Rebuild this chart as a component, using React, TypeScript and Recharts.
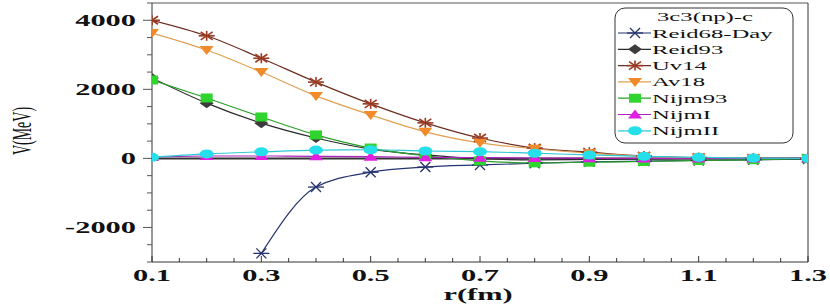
import React from "react";
import {
    LineChart,
    Line,
    XAxis,
    YAxis,
    ReferenceLine,
} from "recharts";

// r (fm)
const rValues = [0.1, 0.2, 0.3, 0.4, 0.5, 0.6, 0.7, 0.8, 0.9, 1.0, 1.1, 1.2, 1.3];

// V (MeV) per potential model
const reid68Day = [null, null, -2750, -830, -400, -250, -190, -140, -100, -80, -60, -40, -20];
const reid93 = [2330, 1600, 1020, 590, 270, 100, -10, -40, -30, -20, -10, -5, 0];
const uv14 = [4000, 3550, 2900, 2210, 1580, 1030, 590, 300, 180, 70, 25, 10, 0];
const av18 = [3630, 3140, 2500, 1810, 1260, 770, 450, 280, 150, 60, 20, 5, 0];
const nijm93 = [2270, 1750, 1200, 680, 300, 80, -70, -130, -110, -90, -60, -40, -10];
const nijmI = [40, 70, 70, 60, 50, 30, 20, 10, 5, 0, 0, 0, 0];
const nijmII = [30, 130, 190, 240, 250, 215, 195, 150, 100, 60, 30, 10, 0];

const xTicks = [0.1, 0.15, 0.2, 0.25, 0.3, 0.35, 0.4, 0.45, 0.5, 0.55, 0.6, 0.65, 0.7, 0.75, 0.8, 0.85, 0.9, 0.95, 1.0, 1.05, 1.1, 1.15, 1.2, 1.25, 1.3];
const xLabels = ["0.1", "0.3", "0.5", "0.7", "0.9", "1.1", "1.3"];
const yTicks = [-3000, -2500, -2000, -1500, -1000, -500, 0, 500, 1000, 1500, 2000, 2500, 3000, 3500, 4000, 4500];
const yLabels = ["-2000", "0", "2000", "4000"];

const legendTitle = "3c3(np)-c";

const series = [
    { key: "reid68Day", name: "Reid68-Day", values: reid68Day, color: "#25336e", line: "#25336e", shape: "star" },
    { key: "reid93", name: "Reid93", values: reid93, color: "#3c3c3c", line: "#2a2a2a", shape: "diamond" },
    { key: "uv14", name: "Uv14", values: uv14, color: "#9a3a22", line: "#6e2e20", shape: "star8" },
    { key: "av18", name: "Av18", values: av18, color: "#f08a2a", line: "#e0a050", shape: "triDown" },
    { key: "nijm93", name: "Nijm93", values: nijm93, color: "#2fd42f", line: "#2aa02a", shape: "square" },
    { key: "nijmI", name: "NijmI", values: nijmI, color: "#e020e0", line: "#b020c0", shape: "triUp" },
    { key: "nijmII", name: "NijmII", values: nijmII, color: "#25e0ea", line: "#30c8d8", shape: "circle" },
];

const data = rValues.map((r, i) => {
    const row: any = { r };
    series.forEach((s) => (row[s.key] = s.values[i]));
    return row;
});

const FONT = "'Liberation Serif', 'Times New Roman', serif";

function Mark({ shape, cx, cy, color }: any) {
    if (cx == null || cy == null) return <g />;
    switch (shape) {
        case "star":
            return (
                <g stroke={color} strokeWidth={1.3}>
                    <line x1={cx - 8} y1={cy} x2={cx + 8} y2={cy} />
                    <line x1={cx - 5} y1={cy - 5} x2={cx + 5} y2={cy + 5} />
                    <line x1={cx - 5} y1={cy + 5} x2={cx + 5} y2={cy - 5} />
                </g>
            );
        case "star8":
            return (
                <g stroke={color} strokeWidth={1.6}>
                    <line x1={cx - 8} y1={cy} x2={cx + 8} y2={cy} />
                    <line x1={cx} y1={cy - 5} x2={cx} y2={cy + 5} />
                    <line x1={cx - 6} y1={cy - 4} x2={cx + 6} y2={cy + 4} />
                    <line x1={cx - 6} y1={cy + 4} x2={cx + 6} y2={cy - 4} />
                </g>
            );
        case "diamond":
            return <path d={`M${cx - 7},${cy} L${cx},${cy - 5} L${cx + 7},${cy} L${cx},${cy + 5} Z`} fill={color} />;
        case "triDown":
            return <path d={`M${cx - 7},${cy - 4} L${cx + 7},${cy - 4} L${cx},${cy + 5} Z`} fill={color} />;
        case "triUp":
            return <path d={`M${cx - 7},${cy + 4} L${cx + 7},${cy + 4} L${cx},${cy - 5} Z`} fill={color} />;
        case "square":
            return <rect x={cx - 6} y={cy - 4.5} width={12} height={9} fill={color} />;
        default:
            return <ellipse cx={cx} cy={cy} rx={7} ry={4.5} fill={color} />;
    }
}

const XTick = (props: any) => {
    const { x, y, payload } = props;
    const label = xLabels.find((l) => Math.abs(parseFloat(l) - payload.value) < 1e-6);
    return (
        <g>
            <line x1={x} y1={y} x2={x} y2={y - (label ? 6 : 4)} stroke="#333" />
            {label && (
                <text
                    transform={`translate(${x},${y + 19}) scale(1.9,1)`}
                    textAnchor="middle"
                    fontFamily={FONT}
                    fontWeight="bold"
                    fontSize={16}
                    fill="#111"
                >
                    {label}
                </text>
            )}
        </g>
    );
};

const YTick = (props: any) => {
    const { x, y, payload } = props;
    const label = yLabels.find((l) => parseFloat(l) === payload.value);
    return (
        <g>
            <line x1={x} y1={y} x2={x - (label ? 9 : 5)} y2={y} stroke="#555" />
            {label && (
                <text
                    transform={`translate(${x - 16},${y + 5.5}) scale(1.9,1)`}
                    textAnchor="end"
                    fontFamily={FONT}
                    fontWeight="bold"
                    fontSize={16}
                    fill="#111"
                >
                    {label}
                </text>
            )}
        </g>
    );
};

function LegendBox() {
    const rowY = (i: number) => 33 + i * 16.3;
    return (
        <svg width={830} height={306} style={{ position: "absolute", left: 0, top: 0, pointerEvents: "none" }}>
            <rect x={615} y={8} width={178} height={135} rx={10} ry={10} fill="#fff" stroke="#333" />
            <text
                transform={`translate(705,21) scale(1.9,1)`}
                textAnchor="middle"
                fontFamily={FONT}
                fontSize={13}
                fill="#111"
            >
                {legendTitle}
            </text>
            {series.map((s, i) => (
                <g key={s.key}>
                    <line x1={618} y1={rowY(i)} x2={651} y2={rowY(i)} stroke={s.line} strokeWidth={1.2} />
                    <Mark shape={s.shape} cx={635} cy={rowY(i)} color={s.color} />
                    <text
                        transform={`translate(652,${rowY(i) + 4.5}) scale(1.9,1)`}
                        fontFamily={FONT}
                        fontSize={13}
                        fill="#111"
                    >
                        {s.name}
                    </text>
                </g>
            ))}
        </svg>
    );
}

export default function App() {
    return (
        <div style={{ position: "absolute", left: 0, top: 0, width: 830, height: 306, background: "#fff" }}>
            <LineChart width={830} height={306} data={data} margin={{ top: 3, right: 22, bottom: 0, left: 12 }}>
                <XAxis
                    dataKey="r"
                    type="number"
                    domain={[0.1, 1.3]}
                    ticks={xTicks}
                    interval={0}
                    tick={<XTick />}
                    tickLine={false}
                    tickSize={0}
                    tickMargin={0}
                    height={44}
                    axisLine={{ stroke: "#333" }}
                    allowDataOverflow
                />
                <YAxis
                    type="number"
                    domain={[-3000, 4500]}
                    ticks={yTicks}
                    interval={0}
                    tick={<YTick />}
                    tickLine={false}
                    tickSize={0}
                    tickMargin={0}
                    width={140}
                    axisLine={{ stroke: "#333" }}
                    allowDataOverflow
                />
                <ReferenceLine y={4500} stroke="#555" />
                <ReferenceLine x={1.3} stroke="#333" />
                <ReferenceLine y={0} stroke="#333" strokeWidth={2} />
                {series.map((s) => (
                    <Line
                        key={s.key}
                        dataKey={s.key}
                        name={s.name}
                        type="monotone"
                        stroke={s.line}
                        strokeWidth={1.2}
                        isAnimationActive={false}
                        connectNulls={false}
                        dot={(p: any) => <Mark key={`${s.key}-${p.index}`} shape={s.shape} cx={p.cx} cy={p.cy} color={s.color} />}
                        activeDot={false}
                    />
                ))}
            </LineChart>
            <LegendBox />
            <svg width={830} height={306} style={{ position: "absolute", left: 0, top: 0, pointerEvents: "none" }}>
                <text
                    transform="translate(22,131) scale(1.9,1) rotate(-90)"
                    textAnchor="middle"
                    dominantBaseline="central"
                    fontFamily={FONT}
                    fontSize={14}
                    fill="#111"
                >
                    V(MeV)
                </text>
                <text
                    transform="translate(478,300) scale(1.9,1)"
                    textAnchor="middle"
                    fontFamily={FONT}
                    fontWeight="bold"
                    fontSize={16}
                    fill="#111"
                >
                    r(fm)
                </text>
            </svg>
        </div>
    );
}
